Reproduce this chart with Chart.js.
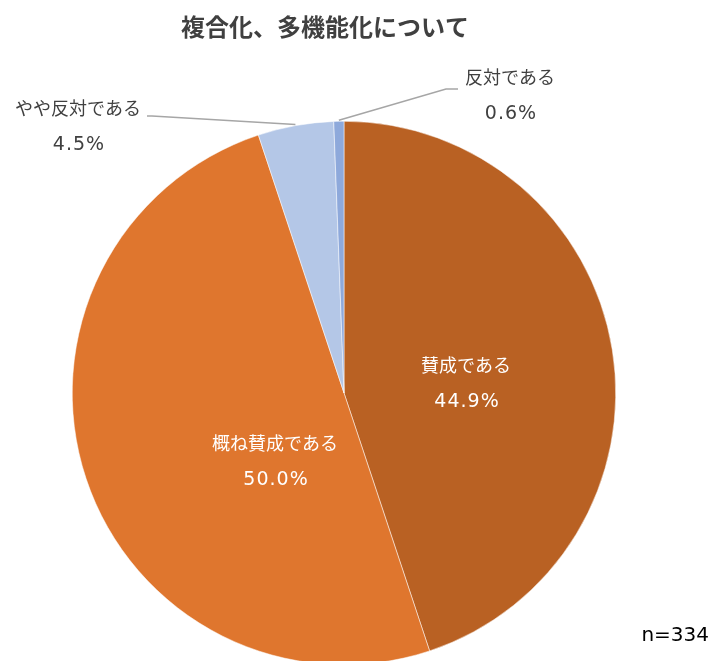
<!DOCTYPE html>
<html>
<head>
<meta charset="utf-8">
<script src="https://cdn.jsdelivr.net/npm/chart.js@4"></script>
<style>
  html, body { margin: 0; padding: 0; background: #fff; overflow: hidden; }
  #wrap { width: 714px; height: 680px; position: relative; }
</style>
</head>
<body>
<div id="wrap"><canvas id="chartPie" width="714" height="680"></canvas></div>
<script>
// 複合化、多機能化について
const categories = ['賛成である', '概ね賛成である', 'やや反対である', '反対である'];
const values = [44.9, 50.0, 4.5, 0.6];
const colors = ['#B96123', '#DF762E', '#B4C7E7', '#8EA9DB'];
const chartTitle = '複合化、多機能化について';
const sampleNote = 'n=334';

const jpFont = '"Noto Sans CJK JP", "Noto Sans", sans-serif';
const numFont = '"DejaVu Sans", "Noto Sans CJK JP", sans-serif';

// label placement: x, y of the name line, text colour, leader elbow or null
const labelPos = [
  { x: 466, y: 365, color: '#ffffff', leader: null },
  { x: 275, y: 443, color: '#ffffff', leader: null },
  { x: 78, y: 108, color: '#404040', leader: [[147, 116], [152, 116]] },
  { x: 510, y: 77, color: '#404040', leader: [[458, 89], [446, 89]] }
];

const labelPlugin = {
  id: 'labels',
  afterDraw(chart) {
    const ctx = chart.ctx;
    const arcs = chart.getDatasetMeta(0).data;
    ctx.save();
    // title
    ctx.fillStyle = '#404040';
    ctx.font = 'bold 24px ' + jpFont;
    ctx.textAlign = 'center';
    ctx.textBaseline = 'middle';
    ctx.fillText(chartTitle, 325, 27);

    // leader lines
    ctx.strokeStyle = '#A6A6A6';
    ctx.lineWidth = 1.5;
    labelPos.forEach((p, i) => {
      if (!p.leader) return;
      const a = arcs[i];
      const mid = (a.startAngle + a.endAngle) / 2;
      const ex = a.x + Math.cos(mid) * (a.outerRadius + 1);
      const ey = a.y + Math.sin(mid) * (a.outerRadius + 1);
      ctx.beginPath();
      ctx.moveTo(p.leader[0][0], p.leader[0][1]);
      ctx.lineTo(p.leader[1][0], p.leader[1][1]);
      ctx.lineTo(ex, ey);
      ctx.stroke();
    });

    // slice labels
    labelPos.forEach((p, i) => {
      ctx.fillStyle = p.color;
      ctx.font = '18px ' + jpFont;
      ctx.letterSpacing = '0px';
      ctx.fillText(categories[i], p.x, p.y);
      ctx.font = '19px ' + numFont;
      ctx.letterSpacing = '1px';
      ctx.fillText(values[i].toFixed(1) + '%', p.x + 1, p.y + 37);
    });

    // sample size
    ctx.fillStyle = '#000000';
    ctx.font = '20px ' + numFont;
    ctx.letterSpacing = '0px';
    ctx.textAlign = 'right';
    ctx.fillText(sampleNote, 709, 636);
    ctx.restore();
  }
};

const ctxPie = document.getElementById('chartPie');
new Chart(ctxPie, {
  type: 'pie',
  data: {
    labels: categories,
    datasets: [{
      data: values,
      backgroundColor: colors,
      borderColor: '#ffffff',
      borderWidth: 0.5
    }]
  },
  options: {
    responsive: false,
    animation: false,
    layout: { padding: { left: 72, right: 98, top: 121, bottom: 15 } },
    plugins: {
      legend: { display: false },
      tooltip: { enabled: false }
    }
  },
  plugins: [labelPlugin]
});
</script>
</body>
</html>
